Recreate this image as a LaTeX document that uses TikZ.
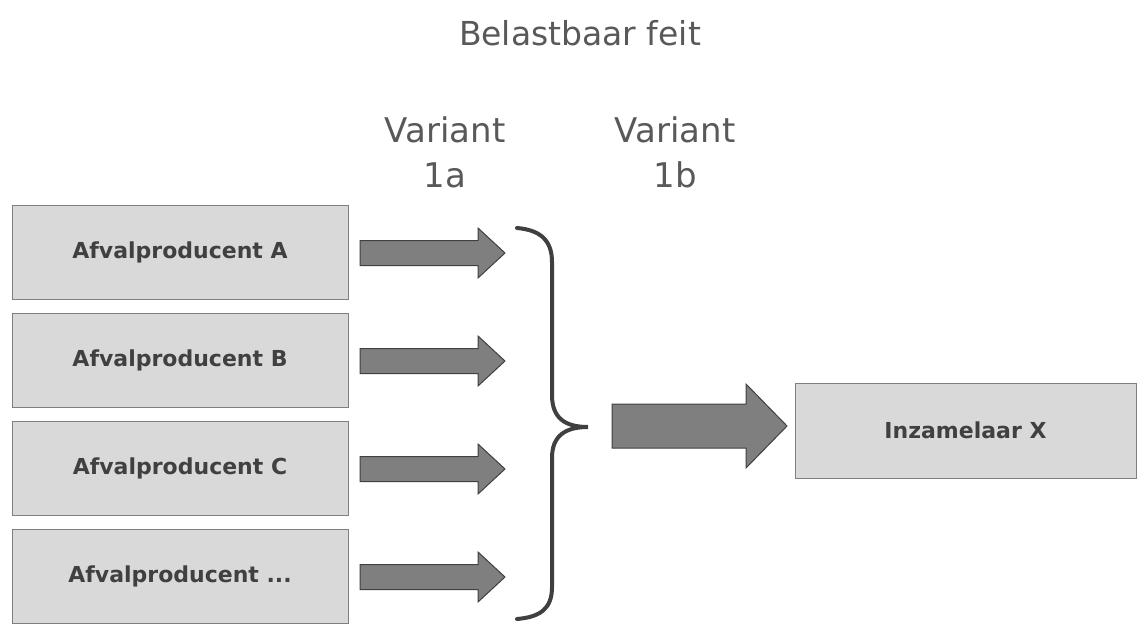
\documentclass[tikz,border=0pt]{standalone}
\usepackage{fontspec}
\setmainfont{DejaVu Sans}
\usetikzlibrary{shapes.arrows}
\definecolor{boxfill}{HTML}{D9D9D9}
\definecolor{boxline}{HTML}{7F7F7F}
\definecolor{arrfill}{HTML}{7F7F7F}
\definecolor{darkline}{HTML}{404040}
\definecolor{titlegray}{HTML}{595959}
\begin{document}
\begin{tikzpicture}[x=1pt,y=-1pt,
  prodbox/.style={draw=boxline, line width=1pt, fill=boxfill, minimum width=336pt, minimum height=94pt, inner sep=0pt,
     font=\fontsize{22}{26}\selectfont\bfseries, text=darkline},
  hdr/.style={text=titlegray, align=center},
  smallarrow/.style={fill=arrfill, draw=darkline, line width=1pt, line join=miter}
]
\useasboundingbox (0,0) rectangle (1138,626);
\node[hdr, font=\fontsize{33}{40}\selectfont] (title) at (580,33) {Belastbaar feit};
\node[hdr, font=\fontsize{34}{45}\selectfont] (v1a) at (445,152) {Variant\\1a};
\node[hdr, font=\fontsize{34}{45}\selectfont] (v1b) at (675,152) {Variant\\1b};

\node[prodbox] (pa) at (180,252) {Afvalproducent A};
\node[prodbox] (pb) at (180,360.5) {Afvalproducent B};
\node[prodbox] (pc) at (180,468) {Afvalproducent C};
\node[prodbox] (pd) at (180,576.5) {Afvalproducent ...};
\node[prodbox, minimum width=341pt, minimum height=95pt] (ix) at (965.5,430.5) {Inzamelaar X};

\foreach \n/\y in {a/253,b/361,c/469,d/577}{
  \coordinate (s\n) at (360,\y);
  \draw[smallarrow] (s\n) ++(0,-12.5) -- ++(118,0) -- ++(0,-12.5) -- ++(27,25) -- ++(-27,25) -- ++(0,-12.5) -- ++(-118,0) -- cycle;
}
\coordinate (bs) at (612,426);
\draw[smallarrow] (bs) ++(0,-22) -- ++(134,0) -- ++(0,-20) -- ++(41,42) -- ++(-41,42) -- ++(0,-20) -- ++(-134,0) -- cycle;

\coordinate (btop) at (517,228);
\coordinate (btip) at (588,427);
\coordinate (bbot) at (517,619);
\draw[darkline, line width=4pt, line cap=round]
  (btop) .. controls (540,230) and (552,240) .. (552,262)
  -- (552,395) .. controls (552,418) and (565,427) .. (btip)
  .. controls (565,427) and (552,436) .. (552,458)
  -- (552,587) .. controls (552,609) and (540,617) .. (bbot);
\end{tikzpicture}
\end{document}
